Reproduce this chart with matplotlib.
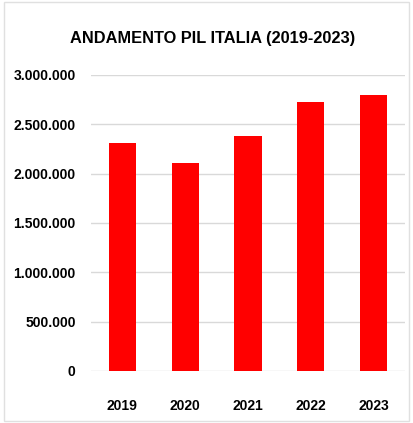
import matplotlib.pyplot as plt
from matplotlib.ticker import FuncFormatter

plt.rcParams['font.family'] = ['Liberation Sans', 'DejaVu Sans']

anni = ["2019", "2020", "2021", "2022", "2023"]
pil = [2311000, 2108000, 2382000, 2726000, 2797000]
ticks_y = [0, 500000, 1000000, 1500000, 2000000, 2500000, 3000000]

fig = plt.figure(figsize=(4.13, 4.23), dpi=100)
ax = fig.add_axes([0.220, 0.123, 0.761, 0.700])

ax.bar(anni, pil, width=0.43, color="#ff0000", zorder=3)
ax.set_xlim(-0.5, 4.5)
ax.set_ylim(0, 3000000)
ax.set_yticks(ticks_y)
ax.yaxis.set_major_formatter(FuncFormatter(lambda v, p: f"{int(v):,}".replace(",", ".")))

ax.grid(axis="y", color="#d9d9d9", linewidth=1, zorder=0)
for s in ax.spines.values():
    s.set_visible(False)
ax.tick_params(length=0, labelsize=10)
ax.tick_params(axis="y", pad=11)
ax.tick_params(axis="x", pad=20)
for lab in ax.get_xticklabels() + ax.get_yticklabels():
    lab.set_fontweight("bold")

fig.text(0.515, 0.91, "ANDAMENTO PIL ITALIA (2019-2023)", ha="center", va="center",
         fontsize=11.8, fontweight="bold")

# cornice grigia leggera
fig.patches.append(plt.Rectangle((0.01, 0.005), 0.98, 0.99, transform=fig.transFigure,
                                 fill=False, edgecolor="#e0e0e0", linewidth=1))

fig.savefig("out.png", dpi=100)
